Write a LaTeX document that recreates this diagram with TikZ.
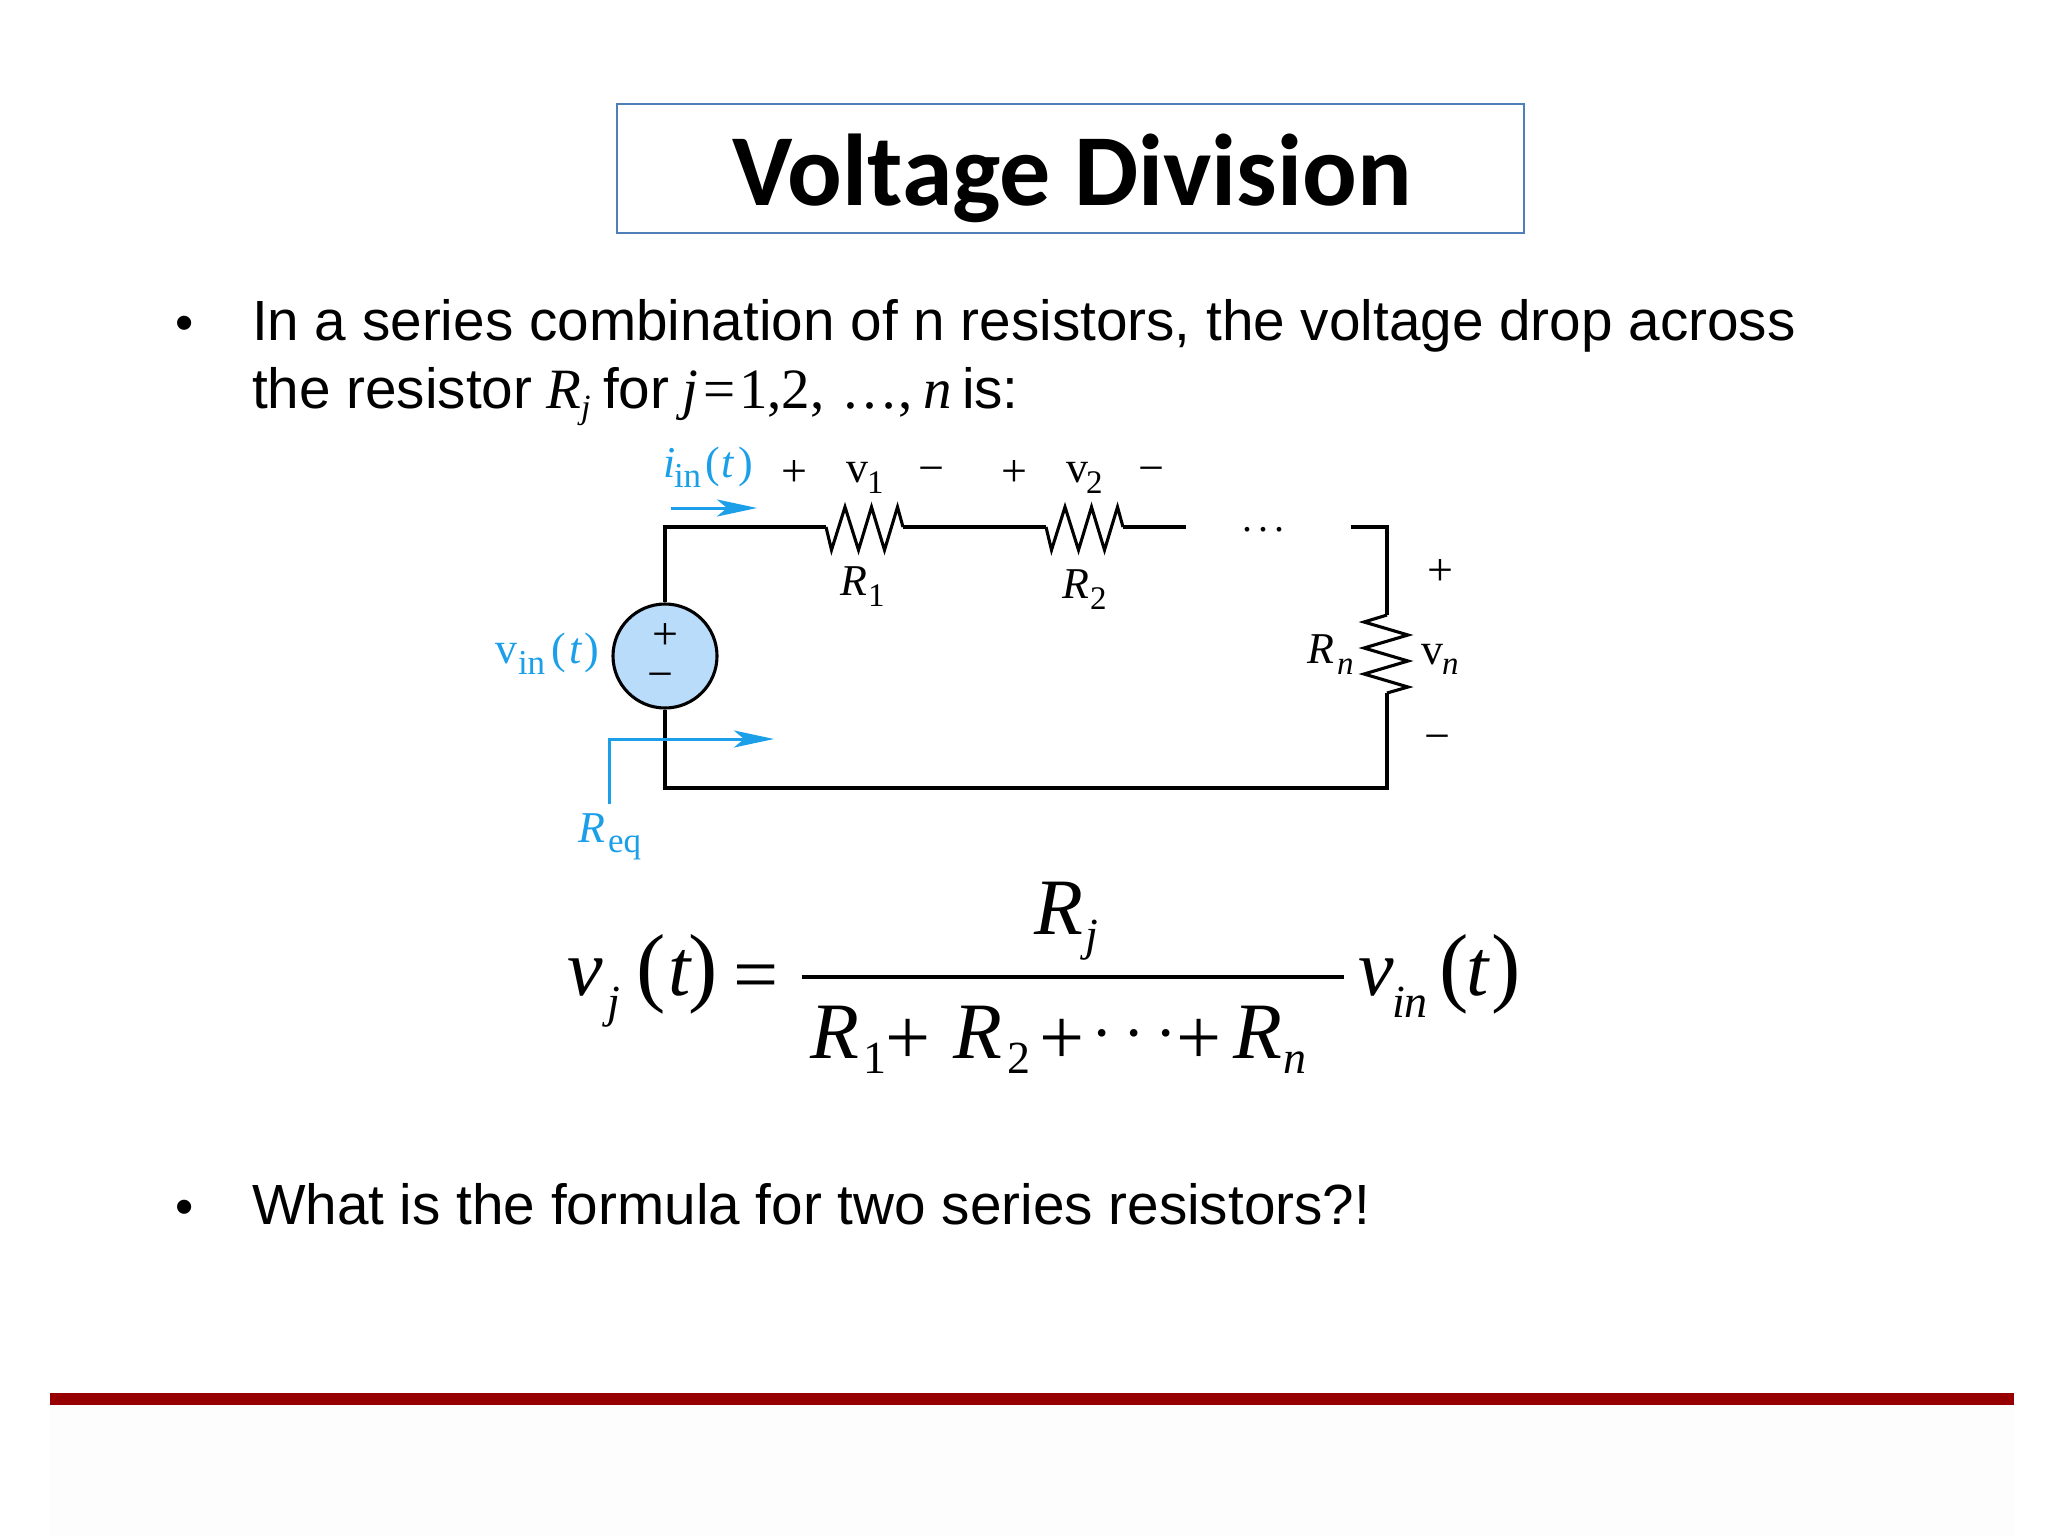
\documentclass[tikz,border=0pt]{standalone}
\usepackage{fontspec}
\usetikzlibrary{arrows.meta}
\setmainfont{Liberation Sans}
\newfontfamily\srffam{Liberation Serif}
\newfontfamily\ttlfam{Carlito}
\definecolor{cyanlab}{HTML}{1A9FE8}
\definecolor{srcfill}{HTML}{B9DCFB}
\definecolor{boxblue}{HTML}{4F7FB8}
\definecolor{barred}{HTML}{960000}
\definecolor{pagegrey}{HTML}{FDFDFD}
\tikzset{
  x=0.5pt,y=-0.5pt,
  tx/.style={anchor=base west,inner sep=0pt,outer sep=0pt},
  bodyt/.style={tx,font=\fontsize{28.34}{32}\selectfont},
  bodys/.style={tx,font=\fontsize{28.5}{32}\selectfont\srffam},
  bodysi/.style={tx,font=\fontsize{28.5}{32}\selectfont\srffam\itshape},
  bodyj/.style={tx,font=\fontsize{17}{20}\selectfont\srffam\itshape},
  cr/.style={tx,font=\fontsize{22}{26}\selectfont\srffam},
  cri/.style={tx,font=\fontsize{22}{26}\selectfont\srffam\itshape},
  crs/.style={tx,font=\fontsize{16.5}{18}\selectfont\srffam},
  crsw/.style={tx,font=\fontsize{17.5}{20}\selectfont\srffam},
  crsi/.style={tx,font=\fontsize{16.5}{18}\selectfont\srffam\itshape},
  sgn/.style={anchor=center,inner sep=0pt,outer sep=0pt,font=\fontsize{23}{26}\selectfont\srffam},
  eqi/.style={tx,font=\fontsize{40}{48}\selectfont\srffam\itshape},
  eqr/.style={tx,font=\fontsize{40}{48}\selectfont\srffam},
  eqp/.style={tx,font=\fontsize{44}{48}\selectfont\srffam},
  eqsi/.style={tx,font=\fontsize{23}{28}\selectfont\srffam\itshape},
  eqsr/.style={tx,font=\fontsize{23}{28}\selectfont\srffam},
  wire/.style={draw=black,line width=1.55pt,line join=miter},
  bluewire/.style={draw=cyanlab,line width=1.5pt},
  bluearrow/.style={bluewire,-{Stealth[length=20pt,width=8.5pt,inset=5pt]}},
}
\begin{document}
\begin{tikzpicture}
\useasboundingbox (0,0) rectangle (2048,1536);
\fill[white] (0,0) rectangle (2048,1536);
\fill[pagegrey] (50,1405) rectangle (2014,1536);
% title
\node[draw=boxblue,line width=1pt,minimum width=453.5pt,minimum height=64pt,inner sep=0pt] (titlebox) at (1070.5,168.5) {};
\node[anchor=base,inner sep=0pt,font=\fontsize{51}{60}\selectfont\ttlfam\bfseries] (title) at (1072,205) {Voltage Division};
% bullets and text
\node[anchor=base,inner sep=0pt,font=\fontsize{26}{32}\selectfont] (b1) at (185,340) {•};
\node[bodyt] (l1) at (252,340) {In a series combination of n resistors, the voltage drop across};
\node[bodyt] (l2a) at (252,408) {the resistor};
\node[bodysi] (l2b) at (546,408) {R};
\node[bodyj] (l2c) at (581,418) {j};
\node[bodyt] (l2d) at (603,408) {for};
\node[bodysi] (l2e) at (682,408) {j};
\node[bodys] (l2f) at (703,408) {=};
\node[bodys] (l2g) at (739,408) {1,2,};
\node[bodys] (l2h) at (841,408) {…,};
\node[bodysi] (l2i) at (923,408) {n};
\node[bodyt] (l2j) at (962,408) {is:};
\node[anchor=base,inner sep=0pt,font=\fontsize{26}{32}\selectfont] (b2) at (185,1224) {•};
\node[bodyt] (l3) at (252,1224) {What is the formula for two series resistors?!};
% bar
\fill[barred] (50,1393) rectangle (2014,1405);
% circuit
\node[circle,draw=black,line width=1.55pt,fill=srcfill,minimum size=52pt,inner sep=0pt] (src) at (665,656) {};
\coordinate (tl) at (665,527);
\coordinate (bl) at (665,788);
\coordinate (br) at (1387,788);
\coordinate (tr) at (1387,527);
\coordinate (r1a) at (826,527);
\coordinate (r1b) at (903,527);
\coordinate (r2a) at (1046,527);
\coordinate (r2b) at (1123,527);
\coordinate (gapl) at (1186,527);
\coordinate (gapr) at (1351,527);
\coordinate (rna) at (1387,615);
\coordinate (rnb) at (1387,693);
\draw[wire] (src.north) -- (tl) -- (r1a);
\draw[wire] (r1a) -- ++(5.5,23) -- ++(13.5,-43) -- ++(13.5,43) -- ++(13,-43) -- ++(13,43) -- ++(13,-43) -- (r1b);
\draw[wire] (r1b) -- (r2a);
\draw[wire] (r2a) -- ++(5.5,23) -- ++(13.5,-43) -- ++(13.5,43) -- ++(13,-43) -- ++(13,43) -- ++(13,-43) -- (r2b);
\draw[wire] (r2b) -- (gapl);
\draw[wire] (gapr) -- (tr) -- (rna);
\draw[wire] (rna) -- (1364,622) -- (1408,635) -- (1364,648) -- (1408,661) -- (1364,674) -- (1408,687) -- (rnb);
\draw[wire] (rnb) -- (br) -- (bl) -- (src.south);
\node[anchor=base,inner sep=0pt,font=\fontsize{20}{24}\selectfont\srffam] (dots) at (1263,531) {.\kern 3pt.\kern 3pt.};
% blue arrows
\coordinate (ia) at (671,508);
\coordinate (ib) at (757,508);
\draw[bluearrow] (ia) -- (ib);
\coordinate (qa) at (609,804);
\coordinate (qm) at (609,739);
\coordinate (qb) at (774,739);
\draw[bluewire] (qa) -- (qm) -- (640,739);
\draw[bluearrow] (qm) -- (qb);
% circuit labels
\node[sgn] (srcp) at (665,636) {+};
\node[sgn] (srcm) at (660,681) {−};
\node[sgn] (p1) at (794,474) {+};
\node[sgn] (m1) at (931,475) {−};
\node[sgn] (p2) at (1014,474) {+};
\node[sgn] (m2) at (1151,475) {−};
\node[sgn] (pn) at (1440,572) {+};
\node[sgn] (mn) at (1437,743) {−};
\node[cr] (v1) at (846,482) {v};
\node[crs] (v1s) at (867,493) {1};
\node[cr] (v2) at (1066,482) {v};
\node[crs] (v2s) at (1086,493) {2};
\node[cri] (R1) at (840,595) {R};
\node[crs] (R1s) at (868,606) {1};
\node[cri] (R2) at (1062,598) {R};
\node[crs] (R2s) at (1090,609) {2};
\node[cri] (Rn) at (1307,663) {R};
\node[crsi] (Rns) at (1337,674) {n};
\node[cr] (vn) at (1421,664) {v};
\node[crsi] (vns) at (1442,674) {n};
\node[cri,text=cyanlab] (iin) at (663,477) {i};
\node[crsw,text=cyanlab] (iins) at (674,487) {in};
\node[cr,text=cyanlab] (iint1) at (705,477) {(};
\node[cri,text=cyanlab] (iint2) at (721,477) {t};
\node[cr,text=cyanlab] (iint3) at (738,477) {)};
\node[cr,text=cyanlab] (vin) at (495,663) {v};
\node[crsw,text=cyanlab] (vins) at (518,674) {in};
\node[cr,text=cyanlab] (vint1) at (551,663) {(};
\node[cri,text=cyanlab] (vint2) at (569,663) {t};
\node[cr,text=cyanlab] (vint3) at (584,663) {)};
\node[cri,text=cyanlab] (req) at (578,842) {R};
\node[crsw,text=cyanlab] (reqs) at (608,852) {eq};
% equation
\draw[line width=1.6pt] (801.5,977) -- (1343.5,977);
\node[eqi] (ev) at (567,995) {v};
\node[eqsi] (evj) at (607,1017) {j};
\node[eqp] (ep1) at (636,995) {(};
\node[eqi] (et1) at (668,995) {t};
\node[eqp] (ep2) at (688,995) {)};
\node[eqr] (eeq) at (733,1001) {=};
\node[eqi] (nR) at (1034,934) {R};
\node[eqsi] (nj) at (1085,950) {j};
\node[eqi] (dR1) at (810,1058) {R};
\node[eqsr] (d1) at (863,1073) {1};
\node[eqr] (dp1) at (885,1064) {+};
\node[eqi] (dR2) at (953,1058) {R};
\node[eqsr] (d2) at (1007,1073) {2};
\node[eqr] (dp2) at (1039,1064) {+};
\node[tx,font=\fontsize{32}{36}\selectfont\srffam] (ddots) at (1091,1054) {·\kern 5.5pt·\kern 5.5pt·};
\node[eqr] (dp3) at (1176,1064) {+};
\node[eqi] (dRn) at (1233,1058) {R};
\node[eqsi] (dn) at (1283,1073) {n};
\node[eqi] (fv) at (1358,995) {v};
\node[eqsi] (fin) at (1392,1017) {in};
\node[eqp] (fp1) at (1439,995) {(};
\node[eqi] (ft) at (1466,995) {t};
\node[eqp] (fp2) at (1491,995) {)};
\end{tikzpicture}
\end{document}
